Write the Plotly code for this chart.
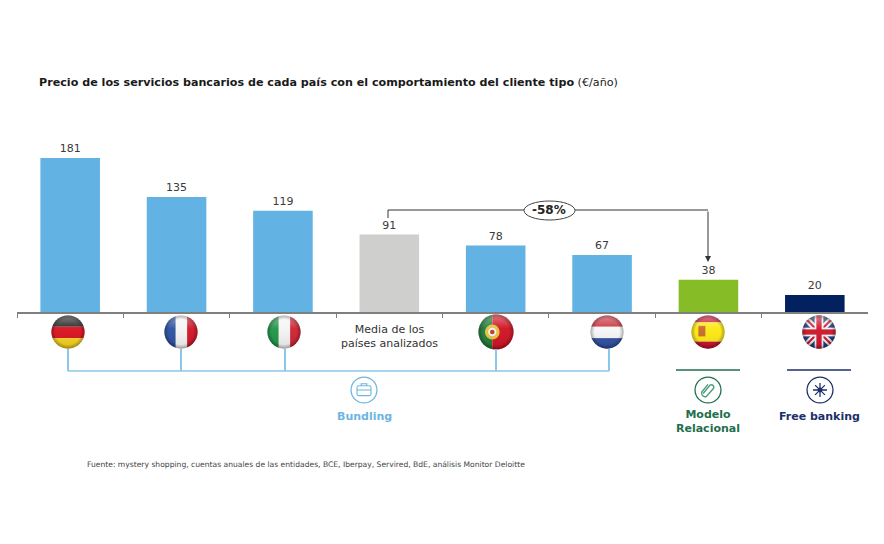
import base64
import plotly.graph_objects as go

W, H = 884, 544

# data
paises = ['Alemania', 'Francia', 'Italia', 'Media', 'Portugal', 'Holanda', 'España', 'Reino Unido']
precios = [181, 135, 119, 91, 78, 67, 38, 20]
colores = ['#62b3e4', '#62b3e4', '#62b3e4', '#cfcfcd', '#62b3e4', '#62b3e4', '#86bc25', '#04215f']

titulo = '<b>Precio de los servicios bancarios de cada país con el comportamiento del cliente tipo</b> (€/año)'
fuente = 'Fuente: mystery shopping, cuentas anuales de las entidades, BCE, Iberpay, Servired, BdE, análisis Monitor Deloitte'

AZUL = '#6db6e2'
VERDE = '#1f6e4c'
NAVY = '#1b2f6b'
FONT = 'DejaVu Sans'


def px(x):
    return x / W


def py(y):
    return 1 - y / H


def svg_uri(body):
    svg = f'<svg xmlns="http://www.w3.org/2000/svg" viewBox="0 0 40 40" width="160" height="160">{body}</svg>'
    return 'data:image/svg+xml;base64,' + base64.b64encode(svg.encode()).decode()


def flag(body):
    # round flag with a glossy highlight on top
    return svg_uri(
        '<defs><clipPath id="c"><circle cx="20" cy="20" r="19"/></clipPath>'
        '<linearGradient id="g" x1="0" y1="0" x2="0" y2="1">'
        '<stop offset="0" stop-color="#fff" stop-opacity="0.45"/>'
        '<stop offset="0.4" stop-color="#fff" stop-opacity="0.05"/>'
        '<stop offset="1" stop-color="#000" stop-opacity="0.1"/></linearGradient>'
        '<radialGradient id="r" cx="0.5" cy="0.5" r="0.5">'
        '<stop offset="0.75" stop-color="#000" stop-opacity="0"/>'
        '<stop offset="1" stop-color="#000" stop-opacity="0.3"/></radialGradient></defs>'
        f'<g clip-path="url(#c)">{body}</g>'
        '<circle cx="20" cy="20" r="19" fill="url(#g)"/>'
        '<circle cx="20" cy="20" r="19" fill="url(#r)"/>'
    )


def rect(x, y, w, h, c):
    return f'<rect x="{x}" y="{y}" width="{w}" height="{h}" fill="{c}"/>'


banderas = {
    'de': (68, 332, 35, rect(0, 0, 40, 14, '#222') + rect(0, 14, 40, 13, '#d8101c') + rect(0, 27, 40, 13, '#f6d21f')),
    'fr': (181, 332, 35, rect(0, 0, 14, 40, '#2a4fa0') + rect(14, 0, 13, 40, '#f4f4f4') + rect(27, 0, 13, 40, '#cf1426')),
    'it': (284, 332, 35, rect(0, 0, 14, 40, '#1f9447') + rect(14, 0, 13, 40, '#f4f4f4') + rect(27, 0, 13, 40, '#cf2030')),
    'pt': (496, 332, 37, rect(0, 0, 16, 40, '#1f7a37') + rect(16, 0, 24, 40, '#d01020')
          + '<circle cx="16" cy="20" r="8" fill="#e5c23a"/><circle cx="16" cy="20" r="4.5" fill="#f2f2f2"/>'
          + '<circle cx="16" cy="20" r="2.5" fill="#c0392b"/>'),
    'nl': (607, 332, 35, rect(0, 0, 40, 14, '#c8303c') + rect(0, 14, 40, 13, '#f7f7f7') + rect(0, 27, 40, 13, '#2f4f9f')),
    'es': (708, 332, 35, rect(0, 0, 40, 9, '#c8102e') + rect(0, 9, 40, 22, '#fde910') + rect(0, 31, 40, 9, '#c8102e')
          + rect(9, 13, 8, 12, '#c9682a')),
    'uk': (819, 332, 35, rect(0, 0, 40, 40, '#1f3a80')
          + '<path d="M0 0L40 40M40 0L0 40" stroke="#f4f4f4" stroke-width="7"/>'
          + '<path d="M0 0L40 40M40 0L0 40" stroke="#cf142b" stroke-width="2.5"/>'
          + rect(15, 0, 10, 40, '#f4f4f4') + rect(0, 15, 40, 10, '#f4f4f4')
          + rect(17, 0, 6, 40, '#cf142b') + rect(0, 17, 40, 6, '#cf142b')),
}

iconos = {
    'maletin': (364, 390, 28, AZUL,
                f'<rect x="10" y="14" width="20" height="14" rx="2.5" fill="none" stroke="{AZUL}" stroke-width="1.6"/>'
                f'<path d="M16 14v-3h8v3M10 20h20" fill="none" stroke="{AZUL}" stroke-width="1.6"/>'),
    'clip': (708, 390, 28, VERDE,
             f'<path d="M13 25L23 13a3.5 3.5 0 0 1 5 4.5L18 29a5 5 0 0 1-7-6l9-11" fill="none" stroke="#4f9b7c" stroke-width="2"/>'),
    'asterisco': (820, 390, 28, NAVY,
                  f'<path d="M20 10V30M10 20H30M13 13L27 27M27 13L13 27" stroke="{NAVY}" stroke-width="1.8"/>'
                  f'<circle cx="20" cy="20" r="3.5" fill="{NAVY}"/>'),
}

imagenes = []
for cx, cy, d, body in banderas.values():
    imagenes.append(dict(source=flag(body), xref='paper', yref='paper', x=px(cx - d / 2), y=py(cy - d / 2),
                         sizex=d / W, sizey=d / H, sizing='stretch', xanchor='left', yanchor='top', layer='above'))
for cx, cy, d, color, body in iconos.values():
    anillo = f'<circle cx="20" cy="20" r="18.5" fill="none" stroke="{color}" stroke-width="1.8"/>'
    imagenes.append(dict(source=svg_uri(anillo + body), xref='paper', yref='paper', x=px(cx - d / 2), y=py(cy - d / 2),
                         sizex=d / W, sizey=d / H, sizing='stretch', xanchor='left', yanchor='top', layer='above'))

fig = go.Figure(go.Bar(
    x=paises, y=precios, marker=dict(color=colores, line_width=0), width=0.56,
    text=precios, textposition='outside', cliponaxis=False,
    textfont=dict(family=FONT, size=11, color='#3a3a3a'),
))


def linea(x0, y0, x1, y1, color, width=1.2):
    return dict(type='line', xref='paper', yref='paper', x0=px(x0), y0=py(y0), x1=px(x1), y1=py(y1),
                line=dict(color=color, width=width))


shapes = [
    # bundling bracket
    linea(68, 371, 609, 371, '#8cc6e8', 1.6),
    linea(68, 349, 68, 371, '#8cc6e8', 2),
    linea(181, 349, 181, 371, '#8cc6e8', 2),
    linea(285, 349, 285, 371, '#8cc6e8', 2),
    linea(496, 349, 496, 371, '#8cc6e8', 2),
    linea(609, 349, 609, 371, '#8cc6e8', 2),
    linea(676, 370, 740, 370, VERDE, 1.6),
    linea(787, 370, 851, 370, NAVY, 1.6),
    # -58% connector
    linea(388, 218, 388, 210, '#333333', 1),
    linea(388, 210, 708, 210, '#333333', 1),
    dict(type='circle', xref='paper', yref='paper', x0=px(524), x1=px(575), y0=py(201), y1=py(220),
         fillcolor='white', line=dict(color='#444444', width=1)),
]


def nota(x, y, texto, size=11, color='#333333', anchor='center'):
    return dict(xref='paper', yref='paper', x=px(x), y=py(y), text=texto, showarrow=False,
                xanchor=anchor, yanchor='middle', align=anchor,
                font=dict(family=FONT, size=size, color=color))


annotations = [
    nota(37, 82, titulo, 11.15, '#1a1a1a', 'left'),
    nota(389, 336, 'Media de los<br>países analizados', 11, '#333333'),
    nota(549, 210, '<b>-58%</b>', 12, '#222222'),
    nota(364, 416, '<b>Bundling</b>', 11, AZUL),
    nota(708, 421, '<b>Modelo<br>Relacional</b>', 11, VERDE),
    nota(819, 416, '<b>Free banking</b>', 11, NAVY),
    nota(85, 464, fuente, 7.6, '#444444', 'left'),
    # arrow down onto the Spain bar
    dict(xref='paper', yref='paper', x=px(708), y=py(262), ax=0, ay=-52,
         text='', showarrow=True, arrowhead=2, arrowsize=1.2, arrowwidth=1, arrowcolor='#333333'),
]

fig.update_layout(
    width=W, height=H, margin=dict(l=0, r=0, t=0, b=0), paper_bgcolor='white', plot_bgcolor='white',
    showlegend=False, shapes=shapes, annotations=annotations, images=imagenes,
    xaxis=dict(domain=[px(17), px(868)], type='category', categoryarray=paises, range=[-0.5, 7.5],
               showticklabels=False, showgrid=False, zeroline=False, showline=True, linecolor='#7f7f7f', linewidth=1.5,
               ticks='outside', tickson='boundaries', ticklen=4, tickcolor='#7f7f7f', tickwidth=1),
    yaxis=dict(domain=[py(312), py(112)], range=[0, 235], visible=False),
)

# the page's default body margin would push everything 8px down and right
fig.write_html('out.html', config=dict(displayModeBar=False),
               post_script="document.body.style.margin='0';document.body.style.overflow='hidden';")
